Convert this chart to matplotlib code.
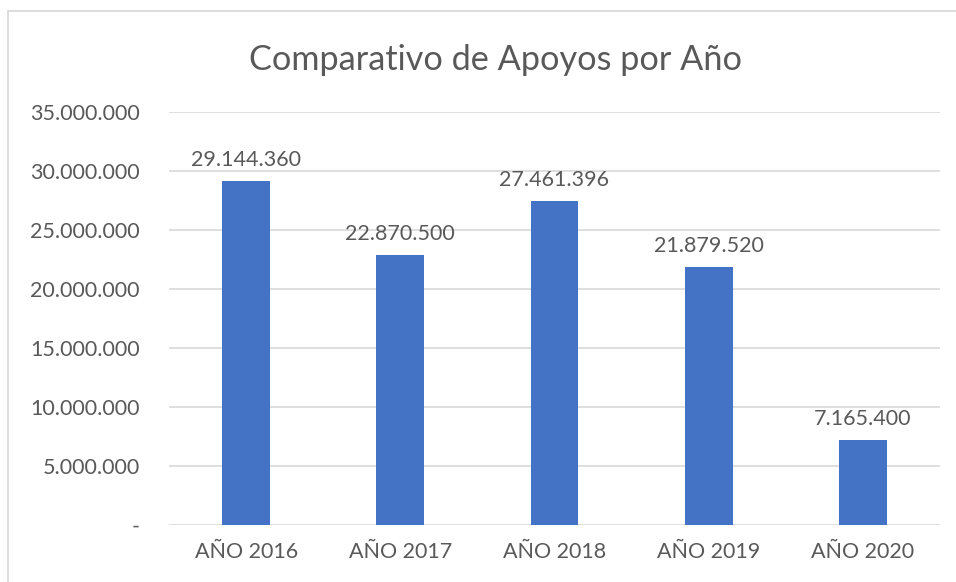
import matplotlib
matplotlib.use("Agg")
import matplotlib.pyplot as plt
from matplotlib.patches import Rectangle
from matplotlib.ticker import FuncFormatter

categories = ["AÑO 2016", "AÑO 2017", "AÑO 2018", "AÑO 2019", "AÑO 2020"]
values = [29144360, 22870500, 27461396, 21879520, 7165400]
yticks = [0, 5000000, 10000000, 15000000, 20000000, 25000000, 30000000, 35000000]
title = "Comparativo de Apoyos por Año"

plt.rcParams['font.family'] = ['Lato', 'DejaVu Sans']
TXT = "#595959"
FS = 15.5
W, H = 956, 582
fig = plt.figure(figsize=(W/100, H/100), dpi=100)
fig.patch.set_facecolor("white")

# outer chart border
fig.patches.append(Rectangle((8/W, -0.1), 1.2, 1 - 11/H + 0.1, transform=fig.transFigure,
                             fill=False, edgecolor="#D9D9D9", linewidth=1.3))

ax = fig.add_axes([169/W, 1 - 525/H, (940-169)/W, (525-112)/H])
x = list(range(len(categories)))
ax.bar(x, values, width=0.31, color="#4472C4", zorder=3)
ax.set_xlim(-0.5, len(categories) - 0.5)
ax.set_ylim(0, 35000000)
ax.set_yticks(yticks)

def fmt(v, pos=None):
    if v == 0:
        return "-"
    return f"{int(round(v)):,}".replace(",", ".")

ax.yaxis.set_major_formatter(FuncFormatter(fmt))
ax.set_xticks(x)
ax.set_xticklabels(categories)
ax.tick_params(axis='both', length=0, labelsize=FS, labelcolor=TXT)
ax.tick_params(axis='y', pad=21)
ax.tick_params(axis='x', pad=12)
ax.grid(axis='y', color="#D9D9D9", linewidth=1.2, zorder=0)
for s in ax.spines.values():
    s.set_visible(False)

for xi, v in zip(x, values):
    ax.annotate(fmt(v), (xi, v), xytext=(0, 8), textcoords="offset points",
                ha="center", va="bottom", fontsize=FS, color=TXT)

fig.text(495/W, 1 - 60/H, title, ha="center", va="center", fontsize=24.7, color=TXT)

fig.savefig("out.png", dpi=100)
